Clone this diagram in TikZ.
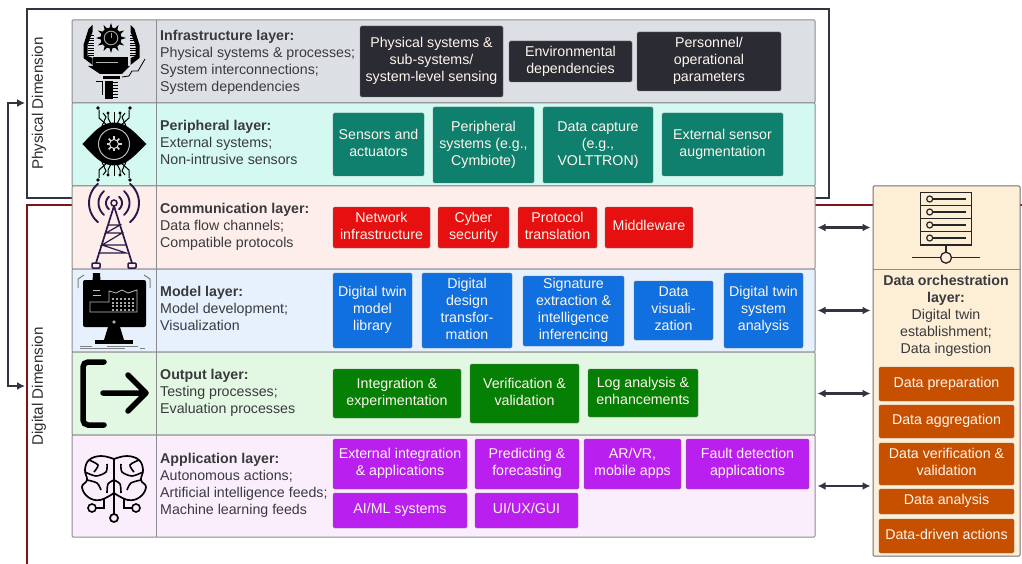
\documentclass[tikz,border=0pt]{standalone}
\usepackage{fontspec}
\setmainfont{Liberation Sans}
\usetikzlibrary{arrows.meta,calc}
\definecolor{txt}{HTML}{3A3A3E}
\definecolor{frame}{HTML}{33343F}
\definecolor{dred}{HTML}{7F1414}
\definecolor{lay}{HTML}{8C8C90}
\definecolor{cDark}{HTML}{2B2B33}
\definecolor{cTeal}{HTML}{0F7F6E}
\definecolor{cRed}{HTML}{E61010}
\definecolor{cBlue}{HTML}{1070E0}
\definecolor{cGreen}{HTML}{058005}
\definecolor{cPurple}{HTML}{B920F0}
\definecolor{cOrange}{HTML}{C75000}
\definecolor{towerc}{HTML}{2A1A4A}
\definecolor{lInfra}{HTML}{DCDFE3}
\definecolor{lPeri}{HTML}{D3F9F0}
\definecolor{lComm}{HTML}{FDEEEB}
\definecolor{lModel}{HTML}{E6F1FD}
\definecolor{lOutput}{HTML}{E2F8E2}
\definecolor{lApp}{HTML}{FBEEFC}
\definecolor{lOrch}{HTML}{FDEED6}
\tikzset{
  fs/.style={font=\fontsize{14.2}{17}\selectfont},
  layerbox/.style={draw=lay,line width=1pt,rounded corners=1pt,inner sep=0pt},
  laytext/.style={fs,text=txt,align=left,anchor=west,inner sep=0pt},
  itembox/.style={fs,draw=black!55,line width=.4pt,rounded corners=1.5pt,text=white!93!orange,inner sep=0pt},
  dbl/.style={draw=frame,line width=2.2pt,{Latex[length=8pt,width=8pt]}-{Latex[length=8pt,width=8pt]},shorten >=2pt,shorten <=2pt},
  vlabel/.style={font=\fontsize{15.2}{17}\selectfont,text=txt!80!black,rotate=90,inner sep=0pt},
}
\newcommand{\bx}[7]{\node[itembox,fill=#2,minimum width=#5pt-#3pt,minimum height=#6pt-#4pt] (#1) at ({(#3+#5)/2},{(#4+#6)/2}) {\raisebox{-3.55pt}[0pt][0pt]{\begin{tabular}{@{}c@{}}#7\end{tabular}}};}
\newcommand{\layer}[4]{\node[layerbox,fill=#2,minimum width=743pt,minimum height=#4pt-#3pt] (#1) at (443.5,{(#3+#4)/2}) {};
  \draw[lay,line width=1pt] (156,#3) -- (156,#4);}
\begin{document}
\begin{tikzpicture}[x=1pt,y=-1pt]
\useasboundingbox (0,0) rectangle (1022,564);
\fill[white] (0,0) rectangle (1022,564);
% frames
\draw[dred,line width=2.8pt] (27,564) -- (27,205) -- (72,205);
\draw[dred,line width=2.8pt] (815,205) -- (1022,205);
\draw[frame,line width=2.6pt] (72,198) -- (27,198) -- (27,9) -- (829,9) -- (829,198) -- (815,198);
\coordinate (physIn) at (25,103);
\coordinate (digiIn) at (25,386);
\coordinate (busTop) at (8,103);
\coordinate (busBot) at (8,386);
\draw[frame,line width=1.5pt,{Latex[length=8pt,width=8pt]}-{Latex[length=8pt,width=8pt]}] (physIn) -- (busTop) -- (busBot) -- (digiIn);
\node[vlabel] (phys) at (39,103.5) {Physical Dimension};
\node[vlabel] (digi) at (39,386.5) {Digital Dimension};
% layers
\layer{infra}{lInfra}{20}{103}
\layer{peri}{lPeri}{103}{186}
\layer{comm}{lComm}{186}{269}
\layer{model}{lModel}{269}{352}
\layer{output}{lOutput}{352}{435}
\layer{app}{lApp}{435}{537}
% layer texts
\node[laytext] (t1) at (160,62) {\textbf{Infrastructure layer:}\\Physical systems \& processes;\\System interconnections;\\System dependencies};
\node[laytext] (t2) at (160,142) {\textbf{Peripheral layer:}\\External systems;\\Non-intrusive sensors};
\node[laytext] (t3) at (160,226.5) {\textbf{Communication layer:}\\Data flow channels;\\Compatible protocols};
\node[laytext] (t4) at (160,308.5) {\textbf{Model layer:}\\Model development;\\Visualization};
\node[laytext] (t5) at (160,392.5) {\textbf{Output layer:}\\Testing processes;\\Evaluation processes};
\node[laytext] (t6) at (160,485.5) {\textbf{Application layer:}\\Autonomous actions;\\Artificial intelligence feeds;\\Machine learning feeds};
% item boxes
\bx{a1}{cDark}{360}{26}{503}{97}{Physical systems \&\\sub-systems/\\system-level sensing}
\bx{a2}{cDark}{509}{41}{632}{82}{Environmental\\dependencies}
\bx{a3}{cDark}{637}{32}{781}{91}{Personnel/\\operational\\parameters}
\bx{b1}{cTeal}{333}{113}{424}{176}{Sensors and\\actuators}
\bx{b2}{cTeal}{433}{107}{534}{183}{Peripheral\\systems (e.g.,\\Cymbiote)}
\bx{b3}{cTeal}{543}{107}{653}{183}{Data capture\\(e.g.,\\VOLTTRON)}
\bx{b4}{cTeal}{662}{113}{783}{176}{External sensor\\augmentation}
\bx{c1}{cRed}{333}{207}{430}{248}{Network\\infrastructure}
\bx{c2}{cRed}{438}{207}{509}{248}{Cyber\\security}
\bx{c3}{cRed}{518}{207}{597}{248}{Protocol\\translation}
\bx{c4}{cRed}{605}{207}{693}{248}{Middleware}
\bx{d1}{cBlue}{333}{273}{412}{348}{Digital twin\\model\\library}
\bx{d2}{cBlue}{422}{273}{512}{348}{Digital\\design\\transfor-\\mation}
\bx{d3}{cBlue}{523}{276}{624}{346}{Signature\\extraction \&\\intelligence\\inferencing}
\bx{d4}{cBlue}{634}{281}{713}{340}{Data\\visuali-\\zation}
\bx{d5}{cBlue}{724}{273}{803}{348}{Digital twin\\system\\analysis}
\bx{e1}{cGreen}{333}{369}{461}{418}{Integration \&\\experimentation}
\bx{e2}{cGreen}{470}{364}{579}{423}{Verification \&\\validation}
\bx{e3}{cGreen}{588}{369}{698}{417}{Log analysis \&\\enhancements}
\bx{f1}{cPurple}{333}{439}{467}{489}{External integration\\\& applications}
\bx{f2}{cPurple}{475}{439}{579}{489}{Predicting \&\\forecasting}
\bx{f3}{cPurple}{584}{439}{681}{489}{AR/VR,\\mobile apps}
\bx{f4}{cPurple}{686}{439}{809}{489}{Fault detection\\applications}
\bx{f5}{cPurple}{333}{493}{467}{528}{AI/ML systems}
\bx{f6}{cPurple}{475}{493}{578}{528}{UI/UX/GUI}
% orchestration
\node[draw=frame!70,line width=1pt,fill=lOrch,rounded corners=1pt,minimum width=147pt,minimum height=370pt,inner sep=0pt] (orch) at (946.5,371) {};
\draw[lay,line width=1pt] (873,269) -- (1020,269);
\node[fs,text=txt,align=center,inner sep=0pt] (t7) at (946,315.5) {\textbf{Data orchestration}\\\textbf{layer:}\\Digital twin\\establishment;\\Data ingestion};
\bx{g1}{cOrange}{879}{367}{1014}{401}{Data preparation}
\bx{g2}{cOrange}{879}{405}{1014}{438}{Data aggregation}
\bx{g3}{cOrange}{879}{443}{1014}{485}{Data verification \&\\validation}
\bx{g4}{cOrange}{879}{489}{1014}{514}{Data analysis}
\bx{g5}{cOrange}{879}{519}{1014}{553}{Data-driven actions}
% double arrows
\draw[dbl] (comm.east) -- (comm.east -| orch.west);
\draw[dbl] (model.east) -- (model.east -| orch.west);
\draw[dbl] (output.east) -- (output.east -| orch.west);
\draw[dbl] (app.east) -- (app.east -| orch.west);
% ---------- icon: infrastructure
\foreach \a in {0,30,...,330}{
  \fill[black] ({111+15*cos(\a)},{38+15*sin(\a)}) -- ({111+9*cos(\a+12)},{38+9*sin(\a+12)}) -- ({111+9*cos(\a-12)},{38+9*sin(\a-12)}) -- cycle;}
\fill[black] (111,38) circle (10.5);
\draw[gray!70,line width=.9pt] (111,38) circle (6.8);
\draw[gray!70,line width=.9pt] (111,33) -- (111,38);
\foreach \s/\c in {-1/111.5,1/111.5}{
  \fill[black] ({\c+\s*19},25) -- ({\c+\s*23},29) -- ({\c+\s*28},45) -- ({\c+\s*28},58) -- ({\c+\s*19},65) -- ({\c+\s*19},58) -- ({\c+\s*24},56) -- ({\c+\s*24},45) -- ({\c+\s*19},32) -- cycle;
  \foreach \y in {36,38.5,...,56}{\draw[black,line width=1pt] ({\c+\s*24},\y) -- ({\c+\s*18},\y);}
}
\fill[black] (93,57) rectangle (128,67);
\draw[gray!60,line width=.6pt] (96,62) -- (118,62);
\fill[black] (88,66) -- (130,66) -- (122,74) -- (100,74) -- cycle;
\fill[black] (103,76) rectangle (120,79);
\fill[black] (105,81) rectangle (113,99);
\foreach \y in {83,86,...,98}{\draw[black,line width=1pt] (113,\y) -- (118,\y);}
\draw[black,line width=1pt] (96,82) -- (102,82) -- (102,95);
\draw[black,line width=.8pt] (122,77) -- (129,76) -- (132,71) -- (138,71) -- (145,59);
% ---------- icon: peripheral
\foreach \s in {-1,1}{
  \foreach \sy/\yy in {-1/144,1/144}{
    \draw[black,line width=1pt] ({114+\s*15},{144+\sy*34}) -- ({114+\s*15},{144+\sy*26}) -- ({114+\s*6},{144+\sy*18});
    \draw[black,line width=1pt] ({114+\s*6},{144+\sy*31}) -- ({114+\s*6},{144+\sy*26}) -- ({114+\s*3},{144+\sy*20});
    \draw[black,line width=1pt] ({114+\s*11},{144+\sy*31}) -- ({114+\s*8},{144+\sy*27}) -- ({114+\s*12},{144+\sy*18});
    \fill[black] ({114+\s*6},{144+\sy*31}) circle (1.6);
    \fill[black] ({114+\s*16},{144+\sy*36}) circle (1.8);
  }
}
\draw[black,line width=1pt] (114,132) -- (114,112) (114,156) -- (114,176);
\fill[black] (82.5,144) .. controls (93,133) and (101,122.5) .. (114,122.5) .. controls (127,122.5) and (135,133) .. (146.5,144) .. controls (135,155) and (127,165.5) .. (114,165.5) .. controls (101,165.5) and (93,155) .. (82.5,144) -- cycle;
\draw[gray!55,line width=1pt] (114,144) circle (15.5);
\foreach \a in {0,45,...,315}{\draw[white!85!black,line width=1.6pt] ({114+4*cos(\a)},{144+4*sin(\a)}) -- ({114+7.5*cos(\a)},{144+7.5*sin(\a)});}
\draw[white!85!black,line width=1pt] (114,144) circle (4.5);
% ---------- icon: communication
\foreach \r in {8,15.5,25}{
  \draw[towerc,line width=1.9pt,line cap=round] plot[domain=-50:50,samples=15] ({114+\r*cos(\x)},{203+\r*sin(\x)});
  \draw[towerc,line width=1.9pt,line cap=round] plot[domain=130:230,samples=15] ({114+\r*cos(\x)},{203+\r*sin(\x)});
}
\draw[towerc,line width=1.5pt] (114,203) circle (3);
\draw[towerc,line width=1.7pt] (114,206) -- (96,263) (114,206) -- (132,263);
\draw[towerc,line width=1.2pt] (108,225) -- (120,225) -- (106,233) -- (122,233) -- (102,245) -- (126,245) (102,245) -- (126,253) -- (98,253);
\foreach \p in {96,132}{\draw[towerc,fill=lComm,line width=1.5pt,rounded corners=1pt] ({\p-4},263) rectangle ({\p+4},268);}
% ---------- icon: model
\draw[gray,line width=1pt] (78,288) -- (78,279) -- (84,275);
\draw[gray,line width=1pt] (150,288) -- (150,279) -- (144,275);
\fill[black,rounded corners=2pt] (83,280) rectangle (146,327);
\fill[black] (93,273) -- (100,273) -- (101,290) -- (102,302) -- (90,302) -- (92,290) -- cycle;
\draw[gray!55,line width=.8pt] (90,312) -- (137,312) -- (137,290) -- (128,293) -- (122,290) -- (116,293) -- (109,291) -- (109,302) -- (90,302) -- cycle;
\draw[gray!50,line width=.5pt] (93,290) -- (100,290) (93,295) -- (101,295);
\foreach \i in {112,116,...,132}{\foreach \j in {298,301.5,305,308.5}{\fill[gray!70] (\i,\j) rectangle (\i+2,\j+2);}}
\fill[gray!70] (114,322) circle (1.8);
\fill[black] (108,327) -- (120,327) -- (124,340) -- (104,340) -- cycle;
\fill[black] (95,340) rectangle (133,344);
\draw[gray,line width=1pt] (80,346) -- (92,346) (107,346) -- (138,346);
\draw[gray,line width=1pt] (80,348) -- (125,348) (140,348) -- (145,348);
% ---------- icon: output
\draw[black,line width=5.5pt,line cap=round,rounded corners=5pt] (104,362) -- (83,362) -- (83,425) -- (104,425);
\draw[black,line width=5.5pt,line cap=round,line join=round] (103,393) -- (145,393) (128,375) -- (146,393) -- (128,411);
% ---------- icon: application
\foreach \s in {-1,1}{
  \draw[black,line width=1.7pt,line join=round] plot[smooth,tension=.7] coordinates {(114,459) ({114+\s*13},456) ({114+\s*25},460) ({114+\s*29},470) ({114+\s*27},480) ({114+\s*32},487) ({114+\s*26},497) ({114+\s*14},500) (114,493)};
  \draw[black,line width=1.6pt] plot[smooth] coordinates {({114+\s*25},460) ({114+\s*16},465) ({114+\s*20},472)};
  \draw[black,line width=1.6pt] plot[smooth] coordinates {({114+\s*29},472) ({114+\s*18},476) ({114+\s*8},472) ({114+\s*7},464)};
  \draw[black,line width=1.6pt] plot[smooth] coordinates {({114+\s*27},480) ({114+\s*17},483) ({114+\s*13},490)};
  \draw[black,line width=1.6pt] plot[smooth] coordinates {(114,480) ({114+\s*6},484) ({114+\s*7},493)};
  \draw[black,line width=1.6pt] ({114+\s*10},499) -- ({114+\s*10},508) -- ({114+\s*18},508);
  \draw[black,line width=1.6pt] ({114+\s*22},508) circle (4);
}
\draw[black,line width=1.7pt] (114,459) -- (114,514);
\draw[black,line width=1.7pt] (114,518) circle (4);
% ---------- icon: data orchestration
\draw[black!85,line width=1.3pt] (920.7,192.3) rectangle (971.7,245);
\foreach \y in {205.3,218.5,231.7}{\draw[black!85,line width=1.3pt] (920.7,\y) -- (971.7,\y);}
\foreach \y in {199,212,225,238}{
  \draw[black!85,line width=1.2pt] (929.7,\y) circle (3);
  \draw[black!85,line width=1.2pt] (932.7,\y) -- (965.7,\y);}
\draw[black!85,line width=1.3pt] (946,245) -- (946,252.2);
\draw[black!85,line width=1.3pt] (946,257.7) circle (5.5);
\draw[black!85,line width=1.3pt] (912,257.7) -- (940.5,257.7) (951.5,257.7) -- (980,257.7);
\end{tikzpicture}
\end{document}
